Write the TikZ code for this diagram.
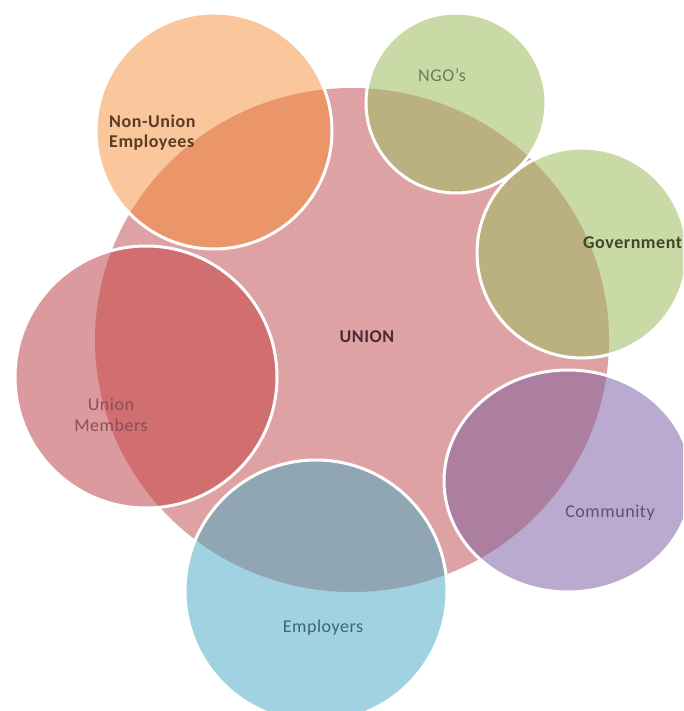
\documentclass[tikz,border=0pt]{standalone}
\usepackage{fontspec}
\setmainfont{Carlito}[LetterSpace=3]
\definecolor{unionpink}{HTML}{DEA2A4}
\definecolor{nuL}{HTML}{FAC69C}
\definecolor{nuD}{HTML}{EA966A}
\definecolor{ngoL}{HTML}{C9DAA6}
\definecolor{ngoD}{HTML}{BBB080}
\definecolor{umL}{HTML}{DB9A9E}
\definecolor{umD}{HTML}{D16E70}
\definecolor{coL}{HTML}{BAAAD0}
\definecolor{coD}{HTML}{AC7EA0}
\definecolor{emL}{HTML}{A0D2E1}
\definecolor{emD}{HTML}{90A6B2}
\definecolor{tNU}{HTML}{5C3B22}
\definecolor{tNGO}{HTML}{6B7D55}
\definecolor{tGOV}{HTML}{3E4A25}
\definecolor{tUN}{HTML}{4A2B33}
\definecolor{tUM}{HTML}{8A4F55}
\definecolor{tCO}{HTML}{5E5075}
\definecolor{tEM}{HTML}{3D6577}
\newcommand\satcircle[3]{%
  \fill[#2] #1;
  \begin{scope}
    \clip (352,340) ellipse [x radius=257, y radius=252];
    \fill[#3] #1;
  \end{scope}
  \draw[rim] #1;}
\begin{document}
\begin{tikzpicture}[x=1pt,y=-1pt,
  lbl/.style={font=\fontsize{18}{21}\selectfont, align=center, inner sep=0pt},
  rim/.style={draw=white, line width=3pt}]
\useasboundingbox (0,0) rectangle (683,711);
\clip (0,0) rectangle (683,711);
\fill[white] (0,0) rectangle (683,711);
% central UNION
\fill[unionpink] (352,340) ellipse [x radius=257, y radius=252];
% satellites
\satcircle{(214,131) circle [radius=118]}{nuL}{nuD}
\satcircle{(456,103) circle [radius=90]}{ngoL}{ngoD}
\satcircle{(582,253) circle [radius=105]}{ngoL}{ngoD}
\satcircle{(568,481) ellipse [x radius=124, y radius=111]}{coL}{coD}
\satcircle{(316,591) circle [radius=131]}{emL}{emD}
\satcircle{(146,377) circle [radius=131]}{umL}{umD}
% labels
\node[lbl, font=\fontsize{18}{20}\selectfont\bfseries, text=tNU, align=left, anchor=west] (nu) at (109,133) {Non-Union\\Employees};
\node[lbl, text=tNGO] (ngo) at (442,75) {NGO's};
\node[lbl, font=\fontsize{18}{21}\selectfont\bfseries, text=tGOV, anchor=west] (gov) at (583,243) {Government};
\node[lbl, font=\fontsize{18}{21}\selectfont\bfseries, text=tUN] (un) at (367,337) {UNION};
\node[lbl, text=tUM] (um) at (111,415) {Union\\Members};
\node[lbl, text=tCO] (co) at (610,513) {Community};
\node[lbl, text=tEM] (em) at (323,628) {Employers};
\end{tikzpicture}
\end{document}
